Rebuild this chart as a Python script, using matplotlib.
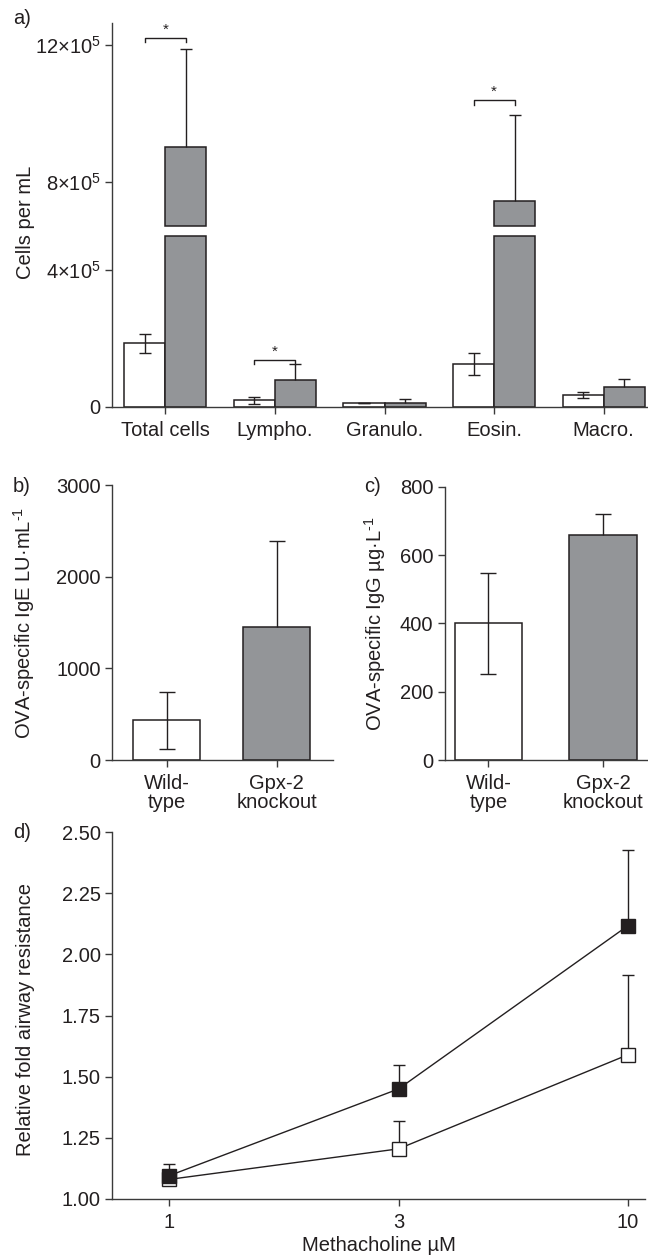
import numpy as np
import matplotlib
matplotlib.use("Agg")
import matplotlib.pyplot as plt

plt.rcParams['font.family'] = ['Liberation Sans', 'DejaVu Sans']
plt.rcParams['mathtext.fontset'] = 'custom'
plt.rcParams['mathtext.rm'] = 'Liberation Sans'
plt.rcParams['mathtext.it'] = 'Liberation Sans:italic'
plt.rcParams['mathtext.bf'] = 'Liberation Sans:bold'

#----- data -----
# a) BAL cell counts
cell_types = ['Total cells', 'Lympho.', 'Granulo.', 'Eosin.', 'Macro.']
wt_cells = [1.85e5, 0.19e5, 0.10e5, 1.25e5, 0.35e5]
wt_cells_err = [0.28e5, 0.10e5, 0.0, 0.33e5, 0.09e5]
ko_cells = [9.0e5, 0.78e5, 0.10e5, 7.43e5, 0.58e5]
ko_cells_err = [2.86e5, 0.47e5, 0.12e5, 2.51e5, 0.24e5]
# significance brackets: (category index, height)
sig_idx = [0, 1, 3]
sig_height = [12.2e5, 1.36e5, 10.37e5]

# b) and c)
groups = ['Wild-\ntype', 'Gpx-2\nknockout']
ige = [435, 1457]
ige_err = [310, 940]
igg = [400, 659]
igg_err = [148, 61]

# d) airway resistance
doses = ['1', '3', '10']
wt_res = [1.08, 1.205, 1.59]
wt_res_err = [0.03, 0.115, 0.328]
ko_res = [1.095, 1.45, 2.118]
ko_res_err = [0.047, 0.10, 0.31]

#----- styles -----
INK = '#231f20'
GREY = '#939598'
SPINE = '#3a3a3a'
FS = 14.5

# axis break for panel a
b1, b2, gap = 4.97e5, 6.72e5, 0.32e5
def fwd(y):
    return np.interp(y, [-1e12, b1, b2, 1e12], [-1e12, b1, b1 + gap, 1e12 - (b2 - b1 - gap)])
def inv(y):
    return np.interp(y, [-1e12, b1, b1 + gap, 1e12 - (b2 - b1 - gap)], [-1e12, b1, b2, 1e12])

def style(ax):
    for s in ['top', 'right']:
        ax.spines[s].set_visible(False)
    for s in ['left', 'bottom']:
        ax.spines[s].set_color(SPINE)
        ax.spines[s].set_linewidth(1.0)
    ax.tick_params(direction='out', length=4.8, width=1.0, color=SPINE,
                   labelsize=FS, labelcolor=INK, pad=3.5)
    ax.tick_params(axis='x', pad=5.5)

def err_up(ax, x, y, e, **kw):
    # error bar drawn upwards only, lower cap hidden
    eb = ax.errorbar(x, y, yerr=[np.zeros(len(e)), e], **kw)
    if eb[1]:
        eb[1][0].set_visible(False)
    return eb

EKW = dict(ecolor=INK, elinewidth=1.0, capthick=1.0)

fig = plt.figure(figsize=(6.48, 12.56), dpi=100)

#----- a) -----
ax = fig.add_axes([0.1733, 0.6762, 0.8252, 0.3057])
style(ax)
ax.set_yscale('function', functions=(fwd, inv))
w = 0.375
x = np.arange(len(cell_types))
ax.bar(x - w / 2, wt_cells, w, color='white', edgecolor=INK, linewidth=1.1, zorder=2)
ax.errorbar(x - w / 2, wt_cells, yerr=wt_cells_err, fmt='none', capsize=4.5,
            zorder=3, **EKW)
for xi, v in zip(x, ko_cells):
    ax.bar(xi + w / 2, min(v, b1), w, color=GREY, edgecolor=INK, linewidth=1.1, zorder=2)
    if v > b2:
        ax.bar(xi + w / 2, v - b2, w, bottom=b2, color=GREY, edgecolor=INK,
               linewidth=1.1, zorder=2)
err_up(ax, x + w / 2, ko_cells, ko_cells_err, fmt='none', capsize=4.5, zorder=3, **EKW)
for i, h in zip(sig_idx, sig_height):
    d = 0.12e5
    ax.plot([i - w / 2, i - w / 2, i + w / 2, i + w / 2], [h - d, h, h, h - d],
            color=INK, lw=1.0)
    ax.annotate('*', (i, h), xytext=(0, 1), textcoords='offset points',
                ha='center', va='bottom', fontsize=11, color=INK)
ax.set_ylim(0, 12.64e5)
ax.set_xlim(-0.484, 4.395)
ax.set_yticks([0, 4e5, 8e5, 12e5])
ax.set_yticklabels(['0', '4×10$^5$', '8×10$^5$', '12×10$^5$'])
ax.set_xticks(x)
ax.set_xticklabels(cell_types)
ax.set_ylabel('Cells per mL', fontsize=FS, color=INK)
ax.yaxis.set_label_coords(-0.163, 0.48)
ax.yaxis.label.set_va('center')

#----- b) -----
ax = fig.add_axes([0.1733, 0.3949, 0.3406, 0.2186])
style(ax)
wb = 0.61
xb = np.arange(len(groups))
ax.bar(xb, ige, wb, color=['white', GREY], edgecolor=INK, linewidth=1.1, zorder=2)
ax.errorbar(xb[:1], ige[:1], yerr=ige_err[:1], fmt='none', capsize=5.5, zorder=3, **EKW)
err_up(ax, xb[1:], ige[1:], ige_err[1:], fmt='none', capsize=5.5, zorder=3, **EKW)
ax.set_ylim(0, 3000)
ax.set_xlim(-0.495, 1.512)
ax.set_yticks([0, 1000, 2000, 3000])
ax.set_xticks(xb)
ax.set_xticklabels(groups, linespacing=0.95)
ax.set_ylabel(r'OVA-specific IgE LU·mL$^{\text{-1}}$', fontsize=FS, color=INK)
ax.yaxis.set_label_coords(-0.40, 0.5)
ax.yaxis.label.set_va('center')

#----- c) -----
ax = fig.add_axes([0.6867, 0.3949, 0.3125, 0.2176])
style(ax)
wc = 0.59
ax.bar(xb, igg, wc, color=['white', GREY], edgecolor=INK, linewidth=1.1, zorder=2)
ax.errorbar(xb[:1], igg[:1], yerr=igg_err[:1], fmt='none', capsize=5.5, zorder=3, **EKW)
err_up(ax, xb[1:], igg[1:], igg_err[1:], fmt='none', capsize=5.5, zorder=3, **EKW)
ax.set_ylim(0, 800)
ax.set_xlim(-0.379, 1.389)
ax.set_yticks([0, 200, 400, 600, 800])
ax.set_xticks(xb)
ax.set_xticklabels(groups, linespacing=0.95)
ax.set_ylabel(r'OVA-specific IgG µg·L$^{\text{-1}}$', fontsize=FS, color=INK)
ax.yaxis.set_label_coords(-0.343, 0.5)
ax.yaxis.label.set_va('center')

#----- d) -----
ax = fig.add_axes([0.1733, 0.0454, 0.8221, 0.2920])
style(ax)
xd = np.arange(len(doses))
err_up(ax, xd, wt_res, wt_res_err, fmt='s-', color=INK, mfc='white', mec=INK,
       ms=9.5, mew=1.0, lw=1.0, capsize=4.5, zorder=3, **EKW)
err_up(ax, xd, ko_res, ko_res_err, fmt='s-', color=INK, mfc=INK, mec=INK,
       ms=9.5, mew=1.0, lw=1.0, capsize=4.5, zorder=4, **EKW)
ax.set_ylim(1.0, 2.5)
ax.set_xlim(-0.247, 2.074)
yt = [1.0, 1.25, 1.5, 1.75, 2.0, 2.25, 2.5]
ax.set_yticks(yt)
ax.set_yticklabels(['%.2f' % t for t in yt])
ax.set_xticks(xd)
ax.set_xticklabels(doses)
ax.set_xlabel('Methacholine µM', fontsize=FS, color=INK, labelpad=3)
ax.set_ylabel('Relative fold airway resistance', fontsize=FS, color=INK)
ax.yaxis.set_label_coords(-0.163, 0.49)
ax.yaxis.label.set_va('center')

#----- panel letters -----
fig.text(13 / 648, 1 - 18 / 1256, 'a)', fontsize=FS, color=INK, va='center')
fig.text(13 / 648, 1 - 487 / 1256, 'b)', fontsize=FS, color=INK, va='center')
fig.text(364 / 648, 1 - 487 / 1256, 'c)', fontsize=FS, color=INK, va='center')
fig.text(13 / 648, 1 - 832 / 1256, 'd)', fontsize=FS, color=INK, va='center')

fig.savefig('out.png', dpi=100)
